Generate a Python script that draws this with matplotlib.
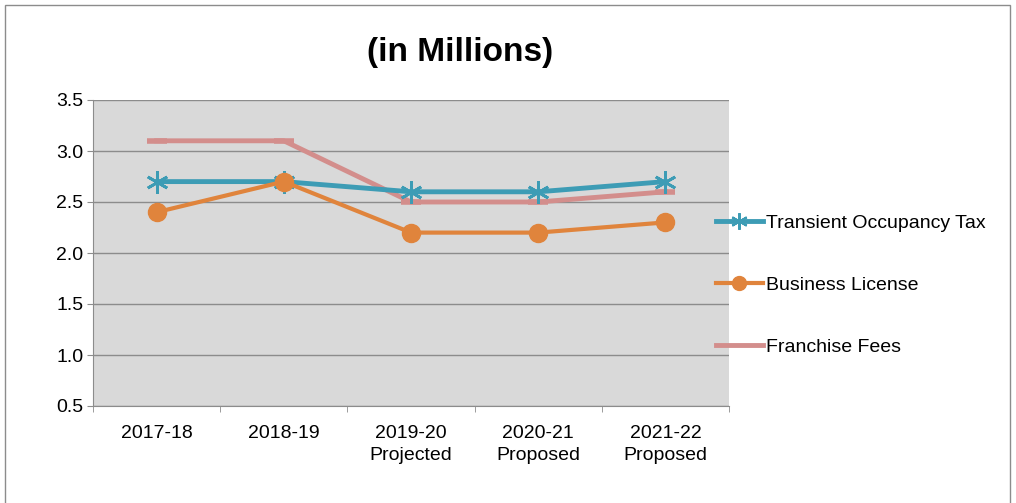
import matplotlib.pyplot as plt
from matplotlib.patches import Rectangle
from matplotlib.lines import Line2D
import numpy as np

categories = ["2017-18", "2018-19", "2019-20\nProjected", "2020-21\nProposed", "2021-22\nProposed"]
tot = [2.7, 2.7, 2.6, 2.6, 2.7]
business = [2.4, 2.7, 2.2, 2.2, 2.3]
franchise = [3.1, 3.1, 2.5, 2.5, 2.6]
yticks = [0.5, 1.0, 1.5, 2.0, 2.5, 3.0, 3.5]

plt.rcParams['font.family'] = ['Liberation Sans', 'DejaVu Sans']

fig = plt.figure(figsize=(10.16, 5.03), dpi=100)
ax = fig.add_axes([93 / 1016, 1 - 406 / 503, (729 - 93) / 1016, (406 - 100) / 503])

x = np.arange(len(categories))
ax.plot(x, franchise, color="#d38e8c", lw=3.5, marker="_", ms=14, mew=4, zorder=3)
ax.plot(x, tot, color="#3d9cb5", lw=3.5, marker=(6, 2, 0), ms=16, mew=2, zorder=4)
ax.plot(x, business, color="#e0843c", lw=3, marker="o", ms=13, zorder=5)

ax.set_facecolor("#d9d9d9")
ax.set_xlim(-0.5, len(categories) - 0.5)
ax.set_ylim(0.5, 3.5)
ax.set_yticks(yticks)
ax.set_yticklabels([f"{v:.1f}" for v in yticks], fontsize=14)
ax.yaxis.grid(True, color="#8c8c8c", lw=1)
ax.set_axisbelow(True)

ax.set_xticks(x)
ax.set_xticklabels(categories, fontsize=14, va="top", linespacing=1.35)
ax.set_xticks(np.arange(len(categories) + 1) - 0.5, minor=True)
ax.tick_params(axis="x", which="major", length=0, pad=14)
ax.tick_params(axis="x", which="minor", length=4, color="#8c8c8c")
ax.tick_params(axis="y", length=4, color="#8c8c8c", pad=3)

ax.spines["top"].set_visible(False)
ax.spines["right"].set_visible(False)
ax.spines["left"].set_color("#8c8c8c")
ax.spines["bottom"].set_color("#8c8c8c")

# legend handles: slimmer markers like the original
handles = [
    Line2D([], [], color="#3d9cb5", lw=3.5, marker=(6, 2, 0), ms=12, mew=1.5),
    Line2D([], [], color="#e0843c", lw=3, marker="o", ms=10),
    Line2D([], [], color="#d38e8c", lw=3.5),
]
labels = ["Transient Occupancy Tax", "Business License", "Franchise Fees"]
fig.legend(handles, labels,
           loc="upper left", bbox_to_anchor=(716 / 1016, 1 - 214 / 503),
           frameon=False, fontsize=14, labelspacing=2.3, handlelength=2.4,
           handletextpad=0.15, borderpad=0, borderaxespad=0)

fig.text(460 / 1016, 1 - 52 / 503, "(in Millions)", fontsize=24, fontweight="bold",
         ha="center", va="center")

fig.patches.append(Rectangle((5 / 1016, -0.01), 1005 / 1016, 1 - 5 / 503 + 0.01,
                             transform=fig.transFigure, fill=False,
                             edgecolor="#8c8c8c", lw=1))

fig.savefig("out.png", dpi=100)
